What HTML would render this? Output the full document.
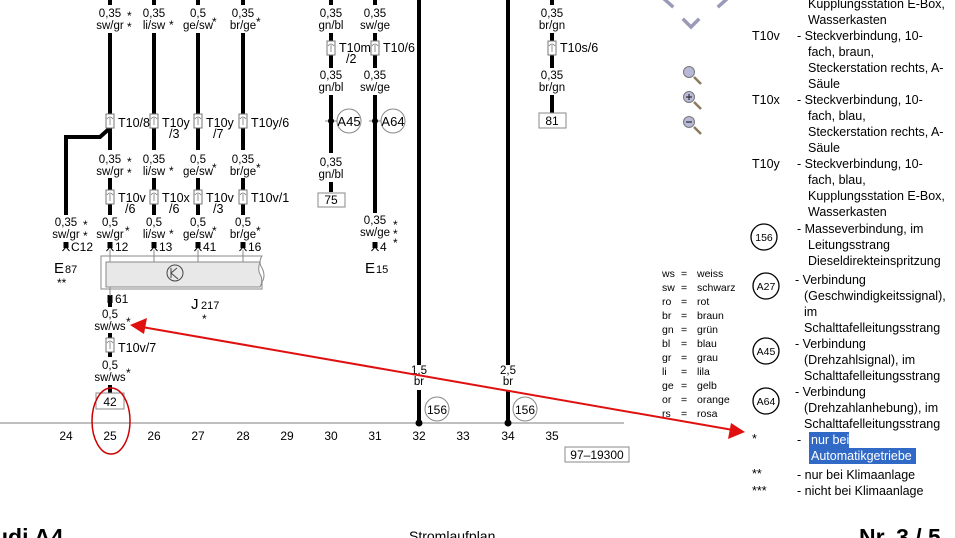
<!DOCTYPE html>
<html><head><meta charset="utf-8"><style>
html,body{margin:0;padding:0;background:#fff;}
svg{display:block;font-family:"Liberation Sans",sans-serif;}
</style></head><body>
<svg width="955" height="538" viewBox="0 0 955 538" xmlns="http://www.w3.org/2000/svg">
<defs>
<g id="con"><rect x="-4" y="0" width="8" height="14" fill="#fff" stroke="#777" stroke-width="1"/><path d="M-3 5 Q0 1 3 5 M0 4 V11" stroke="#777" fill="none" stroke-width="0.8"/></g>
<g id="pin"><rect x="-2.5" y="0" width="5" height="6" fill="#000"/><path d="M-3.5 9 L0 5 L3.5 9" stroke="#000" fill="none" stroke-width="1"/></g>
</defs>
<g stroke="#000" stroke-width="4" fill="none">
<!-- columns 25-28 -->
<path d="M110 0 V5 M110 33 V114 M110 128 V150 M110 178 V190 M110 204 V215"/>
<path d="M154 0 V5 M154 33 V114 M154 128 V150 M154 178 V190 M154 204 V215"/>
<path d="M198 0 V5 M198 33 V114 M198 128 V150 M198 178 V190 M198 204 V215"/>
<path d="M243 0 V5 M243 33 V114 M243 128 V150 M243 178 V190 M243 204 V215"/>
<path d="M110 128 L100 137 H66 V215"/>
<path d="M110 303 V307 M110 333 V338 M110 352 V357 M110 385 V393"/>
<path d="M331 0 V5 M331 33 V41 M331 55 V68 M331 95 V153 M331 182 V192"/>
<path d="M375 0 V5 M375 33 V41 M375 55 V68 M375 95 V213"/>
<path d="M552 0 V5 M552 33 V41 M552 55 V68 M552 95 V113"/>
<path d="M419 0 V365 M419 390 V423"/>
<path d="M508 0 V365 M508 390 V423"/>
</g>
<g font-size="11.5" text-anchor="middle" fill="#000">
<text x="110" y="17">0,35</text><text x="110" y="29">sw/gr</text>
<text x="154" y="17">0,35</text><text x="154" y="29">li/sw</text>
<text x="198" y="17">0,5</text><text x="198" y="29">ge/sw</text>
<text x="243" y="17">0,35</text><text x="243" y="29">br/ge</text>
<text x="110" y="163">0,35</text><text x="110" y="175">sw/gr</text>
<text x="154" y="163">0,35</text><text x="154" y="175">li/sw</text>
<text x="198" y="163">0,5</text><text x="198" y="175">ge/sw</text>
<text x="243" y="163">0,35</text><text x="243" y="175">br/ge</text>
<text x="66" y="226">0,35</text><text x="66" y="238">sw/gr</text>
<text x="110" y="226">0,5</text><text x="110" y="238">sw/gr</text>
<text x="154" y="226">0,5</text><text x="154" y="238">li/sw</text>
<text x="198" y="226">0,5</text><text x="198" y="238">ge/sw</text>
<text x="243" y="226">0,5</text><text x="243" y="238">br/ge</text>
<text x="110" y="318">0,5</text><text x="110" y="330">sw/ws</text>
<text x="110" y="369">0,5</text><text x="110" y="381">sw/ws</text>
<text x="331" y="17">0,35</text><text x="331" y="29">gn/bl</text>
<text x="375" y="17">0,35</text><text x="375" y="29">sw/ge</text>
<text x="331" y="79">0,35</text><text x="331" y="91">gn/bl</text>
<text x="375" y="79">0,35</text><text x="375" y="91">sw/ge</text>
<text x="331" y="166">0,35</text><text x="331" y="178">gn/bl</text>
<text x="375" y="224">0,35</text><text x="375" y="236">sw/ge</text>
<text x="552" y="17">0,35</text><text x="552" y="29">br/gn</text>
<text x="552" y="79">0,35</text><text x="552" y="91">br/gn</text>
<text x="419" y="374">1,5</text><text x="419" y="385">br</text>
<text x="508" y="374">2,5</text><text x="508" y="385">br</text>
</g>
<g font-size="12" fill="#000">
<text x="127" y="20">*</text><text x="127" y="31">*</text>
<text x="169" y="29">*</text><text x="212" y="26">*</text><text x="256" y="26">*</text>
<text x="127" y="166">*</text><text x="127" y="177">*</text>
<text x="169" y="175">*</text><text x="212" y="172">*</text><text x="256" y="172">*</text>
<text x="83" y="229">*</text><text x="83" y="240">*</text>
<text x="125" y="235">*</text><text x="169" y="238">*</text><text x="212" y="235">*</text><text x="256" y="235">*</text>
<text x="126" y="326">*</text><text x="126" y="377">*</text>
<text x="393" y="229">*</text><text x="393" y="238">*</text><text x="393" y="247">*</text>
<text x="57" y="287">**</text><text x="202" y="323">*</text>
</g>
<!-- connectors -->
<use href="#con" x="110" y="114"/><use href="#con" x="154" y="114"/><use href="#con" x="198" y="114"/><use href="#con" x="243" y="114"/>
<use href="#con" x="110" y="190"/><use href="#con" x="154" y="190"/><use href="#con" x="198" y="190"/><use href="#con" x="243" y="190"/>
<use href="#con" x="110" y="338"/><use href="#con" x="331" y="41"/><use href="#con" x="375" y="41"/><use href="#con" x="552" y="41"/>
<g font-size="12.5" fill="#000">
<text x="118" y="127">T10/8</text><text x="162" y="127">T10y</text><text x="169" y="138">/3</text>
<text x="206" y="127">T10y</text><text x="213" y="138">/7</text><text x="251" y="127">T10y/6</text>
<text x="118" y="202">T10v</text><text x="125" y="213">/6</text><text x="162" y="202">T10x</text><text x="169" y="213">/6</text>
<text x="206" y="202">T10v</text><text x="213" y="213">/3</text><text x="251" y="202">T10v/1</text>
<text x="118" y="352">T10v/7</text>
<text x="339" y="52">T10m</text><text x="346" y="63">/2</text><text x="383" y="52">T10/6</text><text x="560" y="52">T10s/6</text>
</g>
<!-- pins -->
<use href="#pin" x="66" y="242"/><use href="#pin" x="110" y="242"/><use href="#pin" x="154" y="242"/><use href="#pin" x="198" y="242"/><use href="#pin" x="243" y="242"/><use href="#pin" x="375" y="242"/>
<g font-size="12" fill="#000">
<text x="71" y="251">C12</text><text x="115" y="251">12</text><text x="159" y="251">13</text><text x="203" y="251">41</text><text x="248" y="251">16</text><text x="380" y="251">4</text>
<text x="115" y="303">61</text>
<text x="54" y="273" font-size="15">E</text><text x="65" y="273" font-size="11">87</text>
<text x="365" y="273" font-size="15">E</text><text x="376" y="273" font-size="11">15</text>
<text x="191" y="309" font-size="15">J</text><text x="201" y="309" font-size="11">217</text>
</g>
<rect x="107.5" y="295" width="5" height="8" fill="#000"/>
<!-- J217 box -->
<path d="M101 256 H262 Q258 262 262 268 Q266 276 262 282 L262 289 H101 Z" fill="#fff" stroke="#888"/>
<path d="M106 262 H260 Q257 270 261 276 Q263 282 260 287 H106 Z" fill="#e8e8e8" stroke="#888"/>
<path d="M110 250 V262 M154 250 V262 M198 250 V262 M243 250 V262 M110 287 V296" stroke="#888" fill="none"/>
<circle cx="175" cy="273" r="8" fill="none" stroke="#444"/><path d="M171 268 V278 M171 273 L177 268 M171 273 L178 279" stroke="#444" fill="none"/>
<!-- A45 A64 -->
<path d="M325 121 H337 M369 121 H381" stroke="#888"/>
<circle cx="331" cy="121" r="3" fill="#000"/><circle cx="375" cy="121" r="3" fill="#000"/>
<circle cx="349" cy="121" r="12" fill="#fff" stroke="#888"/><text x="349" y="126" font-size="13" text-anchor="middle">A45</text>
<circle cx="393" cy="121" r="12" fill="#fff" stroke="#888"/><text x="393" y="126" font-size="13" text-anchor="middle">A64</text>
<g fill="#fff" stroke="#888"><rect x="96" y="393" width="28" height="16"/><rect x="318" y="193" width="27" height="14"/><rect x="539" y="113" width="27" height="15"/><rect x="565" y="447" width="64" height="15"/></g>
<g font-size="12" text-anchor="middle"><text x="110" y="406">42</text><text x="331" y="204">75</text><text x="552" y="125">81</text><text x="597" y="459">97–19300</text></g>
<!-- ground -->
<line x1="0" y1="423" x2="624" y2="423" stroke="#999" stroke-width="1.2"/>
<circle cx="419" cy="423" r="3.5"/><circle cx="508" cy="423" r="3.5"/>
<circle cx="437" cy="409" r="12" fill="#fff" stroke="#888"/><text x="437" y="414" font-size="12" text-anchor="middle">156</text>
<circle cx="525" cy="409" r="12" fill="#fff" stroke="#888"/><text x="525" y="414" font-size="12" text-anchor="middle">156</text>
<g font-size="12" text-anchor="middle">
<text x="66" y="440">24</text><text x="110" y="440">25</text><text x="154" y="440">26</text><text x="198" y="440">27</text><text x="243" y="440">28</text><text x="287" y="440">29</text><text x="331" y="440">30</text><text x="375" y="440">31</text><text x="419" y="440">32</text><text x="463" y="440">33</text><text x="508" y="440">34</text><text x="552" y="440">35</text>
</g>
<!-- icons -->
<g stroke="#9a9ab8" stroke-width="3.5" fill="none" stroke-linecap="square">
<path d="M663 -2 L672 6 M728 -2 L719 6"/><path d="M684 20 L691 27 L698 20"/>
</g>
<g stroke="#8a7a60" stroke-width="2.5"><path d="M694 77 L701 84 M694 102 L701 109 M694 127 L701 134"/></g>
<g fill="#b8b8d8" stroke="#777"><circle cx="689" cy="72" r="5.5"/><circle cx="689" cy="97" r="5.5"/><circle cx="689" cy="122" r="5.5"/></g>
<path d="M686 97 H692 M689 94 V100 M686 122 H692" stroke="#333" stroke-width="1.2"/>
<!-- legend -->
<g font-size="12.5" fill="#000">
<text x="808" y="8">Kupplungsstation E-Box,</text><text x="808" y="24">Wasserkasten</text>
<text x="752" y="40">T10v</text><text x="797" y="40">- Steckverbindung, 10-</text><text x="808" y="56">fach, braun,</text><text x="808" y="72">Steckerstation rechts, A-</text><text x="808" y="88">Säule</text>
<text x="752" y="104">T10x</text><text x="797" y="104">- Steckverbindung, 10-</text><text x="808" y="120">fach, blau,</text><text x="808" y="136">Steckerstation rechts, A-</text><text x="808" y="152">Säule</text>
<text x="752" y="168">T10y</text><text x="797" y="168">- Steckverbindung, 10-</text><text x="808" y="184">fach, blau,</text><text x="808" y="200">Kupplungsstation E-Box,</text><text x="808" y="216">Wasserkasten</text>
<text x="797" y="233">- Masseverbindung, im</text><text x="808" y="249">Leitungsstrang</text><text x="808" y="265">Dieseldirekteinspritzung</text>
<text x="795" y="284">- Verbindung</text><text x="804" y="300">(Geschwindigkeitssignal),</text><text x="804" y="316">im</text><text x="804" y="332">Schalttafelleitungsstrang</text>
<text x="795" y="348">- Verbindung</text><text x="804" y="364">(Drehzahlsignal), im</text><text x="804" y="380">Schalttafelleitungsstrang</text>
<text x="795" y="396">- Verbindung</text><text x="804" y="412">(Drehzahlanhebung), im</text><text x="804" y="428">Schalttafelleitungsstrang</text>
<text x="752" y="443">*</text><text x="797" y="444">-</text>
<text x="752" y="478">**</text><text x="797" y="479">-  nur bei Klimaanlage</text>
<text x="752" y="495">***</text><text x="797" y="495">-  nicht bei Klimaanlage</text>
</g>
<rect x="809" y="432" width="40" height="16" fill="#3169c6"/><rect x="809" y="448" width="107" height="16" fill="#3169c6"/>
<text x="811" y="444" font-size="12.5" fill="#fff">nur bei</text><text x="811" y="460" font-size="12.5" fill="#fff">Automatikgetriebe</text>
<g fill="#fff" stroke="#000" stroke-width="1.3">
<circle cx="764" cy="237" r="13"/><circle cx="766" cy="286" r="13"/><circle cx="766" cy="351" r="13"/><circle cx="766" cy="401" r="13"/>
</g>
<g font-size="10.5" text-anchor="middle"><text x="764" y="241">156</text><text x="766" y="290">A27</text><text x="766" y="355">A45</text><text x="766" y="405">A64</text></g>
<g font-size="10.5" fill="#000">
<text x="662" y="277">ws</text><text x="681" y="277">=</text><text x="697" y="277">weiss</text>
<text x="662" y="291">sw</text><text x="681" y="291">=</text><text x="697" y="291">schwarz</text>
<text x="662" y="305">ro</text><text x="681" y="305">=</text><text x="697" y="305">rot</text>
<text x="662" y="319">br</text><text x="681" y="319">=</text><text x="697" y="319">braun</text>
<text x="662" y="333">gn</text><text x="681" y="333">=</text><text x="697" y="333">grün</text>
<text x="662" y="347">bl</text><text x="681" y="347">=</text><text x="697" y="347">blau</text>
<text x="662" y="361">gr</text><text x="681" y="361">=</text><text x="697" y="361">grau</text>
<text x="662" y="375">li</text><text x="681" y="375">=</text><text x="697" y="375">lila</text>
<text x="662" y="389">ge</text><text x="681" y="389">=</text><text x="697" y="389">gelb</text>
<text x="662" y="403">or</text><text x="681" y="403">=</text><text x="697" y="403">orange</text>
<text x="662" y="417">rs</text><text x="681" y="417">=</text><text x="697" y="417">rosa</text>
</g>
<!-- footer -->
<text x="-6" y="545" font-size="23" font-weight="bold">udi A4</text>
<text x="409" y="541" font-size="14">Stromlaufplan</text>
<text x="859" y="545" font-size="23" font-weight="bold">Nr.  3 / 5</text>
<!-- red annotations -->
<line x1="142" y1="327" x2="733" y2="430" stroke="#e01010" stroke-width="2"/>
<path d="M130 325 L147 318 L144 334 Z" fill="#e01010"/>
<path d="M745 432 L728 439 L731 423 Z" fill="#e01010"/>
<ellipse cx="111" cy="421" rx="19" ry="33" fill="none" stroke="#c00" stroke-width="1.5"/>
</svg>
</body></html>
